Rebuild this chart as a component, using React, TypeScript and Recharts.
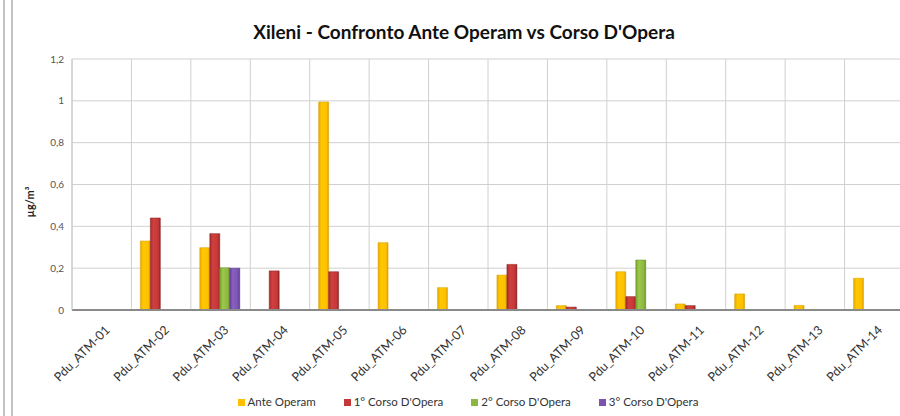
import React from 'react';
import { BarChart, Bar, XAxis, YAxis, CartesianGrid, Legend } from 'recharts';

const categories = [
  'Pdu_ATM-01', 'Pdu_ATM-02', 'Pdu_ATM-03', 'Pdu_ATM-04', 'Pdu_ATM-05', 'Pdu_ATM-06', 'Pdu_ATM-07',
  'Pdu_ATM-08', 'Pdu_ATM-09', 'Pdu_ATM-10', 'Pdu_ATM-11', 'Pdu_ATM-12', 'Pdu_ATM-13', 'Pdu_ATM-14',
];
const anteOperam = [null, 0.33, 0.298, null, 0.995, 0.322, 0.107, 0.167, 0.021, 0.183, 0.029, 0.077, 0.022, 0.152];
const corso1 = [null, 0.44, 0.365, 0.187, 0.183, null, null, 0.218, 0.014, 0.064, 0.021, null, null, null];
const corso2 = [null, null, 0.202, null, null, null, null, null, null, 0.239, null, null, null, null];
const corso3 = [null, null, 0.2, null, null, null, null, null, null, null, null, null, null, null];
const yTicks = [0, 0.2, 0.4, 0.6, 0.8, 1, 1.2];

const series = [
  { key: 'ante', name: 'Ante Operam', color: '#ffc000', grad: 'gAnte', edge: '#d9a000' },
  { key: 'c1', name: "1° Corso D'Opera", color: '#c43838', grad: 'gC1', edge: '#8a2020' },
  { key: 'c2', name: "2° Corso D'Opera", color: '#8cb840', grad: 'gC2', edge: '#6a9028' },
  { key: 'c3', name: "3° Corso D'Opera", color: '#7c54b0', grad: 'gC3', edge: '#56348a' },
];

const data = categories.map((name, i) => ({
  name,
  ante: anteOperam[i],
  c1: corso1[i],
  c2: corso2[i],
  c3: corso3[i],
}));

const FONT = 'Lato, "Open Sans", sans-serif';

const XTick = (props: any) => {
  const { x, y, payload } = props;
  return (
    <g transform={`translate(${x + 6},${y + 10})`}>
      <text transform="rotate(-45)" textAnchor="end" fontSize={12.5} fill="#333" fontFamily={FONT} dy={4}>
        {payload.value}
      </text>
    </g>
  );
};

const LegendBox = () => (
  <div style={{ display: 'flex', justifyContent: 'center', height: 20, lineHeight: '20px', fontSize: 11.5, fontFamily: FONT, color: '#333', paddingLeft: 30 }}>
    {series.map((s) => (
      <span key={s.key} style={{ display: 'inline-flex', alignItems: 'center', margin: '0 14px' }}>
        <span style={{ display: 'inline-block', width: 7, height: 7, background: s.color, marginRight: 3 }} />
        {s.name}
      </span>
    ))}
  </div>
);

const fmt = (v: number) => String(v).replace('.', ',');

export default function App() {
  return (
    <div style={{ position: 'absolute', left: 0, top: 0, width: 900, height: 416, overflow: 'hidden', background: '#fff' }}>
      <div style={{ position: 'absolute', left: 3, top: 0, width: 1.5, height: 416, background: '#c4c4c4' }} />
      <div style={{ position: 'absolute', left: 11, top: 0, width: 1.5, height: 416, background: '#c4c4c4' }} />
      <BarChart
        width={906}
        height={416}
        data={data}
        margin={{ top: 59, right: 2, left: 20, bottom: 4 }}
        barCategoryGap="15%"
        barGap={0}
      >
        <defs>
          <linearGradient id="gAnte" x1="0" y1="0" x2="1" y2="0">
            <stop offset="0" stopColor="#e8a900" />
            <stop offset="0.3" stopColor="#ffc800" />
            <stop offset="0.8" stopColor="#ffc000" />
            <stop offset="1" stopColor="#d89c00" />
          </linearGradient>
          <linearGradient id="gC1" x1="0" y1="0" x2="1" y2="0">
            <stop offset="0" stopColor="#a82a2a" />
            <stop offset="0.3" stopColor="#d04040" />
            <stop offset="0.8" stopColor="#c43838" />
            <stop offset="1" stopColor="#8e2222" />
          </linearGradient>
          <linearGradient id="gC2" x1="0" y1="0" x2="1" y2="0">
            <stop offset="0" stopColor="#78a030" />
            <stop offset="0.3" stopColor="#9cc84c" />
            <stop offset="0.8" stopColor="#8cb840" />
            <stop offset="1" stopColor="#6a9028" />
          </linearGradient>
          <linearGradient id="gC3" x1="0" y1="0" x2="1" y2="0">
            <stop offset="0" stopColor="#64409a" />
            <stop offset="0.3" stopColor="#8a60c0" />
            <stop offset="0.8" stopColor="#7c54b0" />
            <stop offset="1" stopColor="#56348a" />
          </linearGradient>
        </defs>
        <text x={464} y={39} textAnchor="middle" fontSize={19} fontWeight="bold" fill="#111" fontFamily={FONT}>
          Xileni - Confronto Ante Operam vs Corso D'Opera
        </text>
        <text
          x={0}
          y={0}
          transform="translate(34,202) rotate(-90)"
          textAnchor="middle"
          fontSize={11}
          fontWeight="bold"
          fill="#222"
          fontFamily={FONT}
        >
          µg/m³
        </text>
        <CartesianGrid
          stroke="#d0d0d0"
          verticalCoordinatesGenerator={({ offset }: any) =>
            categories.map((_, i) => offset.left + (i * offset.width) / categories.length)
          }
        />
        <XAxis
          dataKey="name"
          interval={0}
          tick={<XTick />}
          tickLine={false}
          axisLine={{ stroke: '#8a8a8a', strokeWidth: 2 }}
          height={82}
        />
        <YAxis
          domain={[0, 1.2]}
          ticks={yTicks}
          tickFormatter={fmt}
          width={52}
          tick={{ fontSize: 10, fill: '#555', fontFamily: FONT }}
          axisLine={{ stroke: '#c8c8c8' }}
          tickLine={false}
        />
        <Legend verticalAlign="bottom" content={<LegendBox />} wrapperStyle={{ left: 0, width: 906 }} />
        {series.map((s) => (
          <Bar
            key={s.key}
            dataKey={s.key}
            name={s.name}
            fill={`url(#${s.grad})`}
            stroke={s.edge}
            strokeWidth={0.5}
            isAnimationActive={false}
          />
        ))}
      </BarChart>
    </div>
  );
}
